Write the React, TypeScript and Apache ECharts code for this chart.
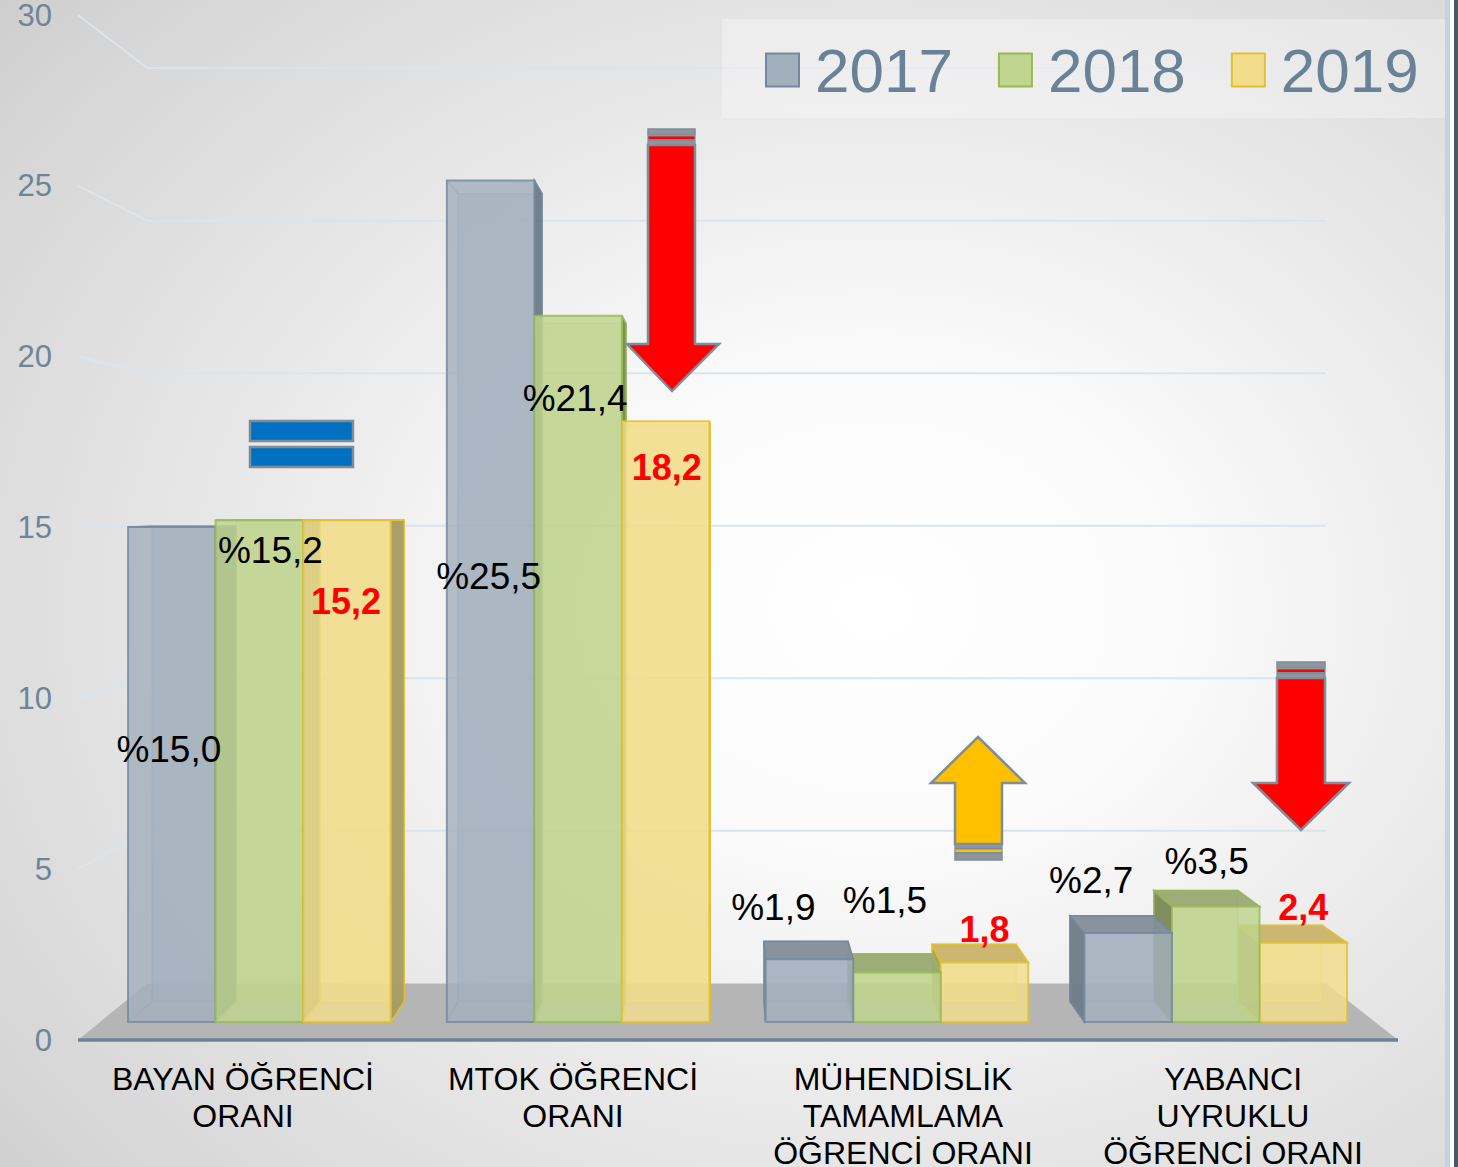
import React, { useEffect, useRef } from "react";
import * as echarts from "echarts";

const categories = [
  "BAYAN ÖĞRENCİ\nORANI",
  "MTOK ÖĞRENCİ\nORANI",
  "MÜHENDİSLİK\nTAMAMLAMA\nÖĞRENCİ ORANI",
  "YABANCI\nUYRUKLU\nÖĞRENCİ ORANI",
];
const seriesNames = ["2017", "2018", "2019"];
const values2017 = [15.0, 25.5, 1.9, 2.7];
const values2018 = [15.2, 21.4, 1.5, 3.5];
const values2019 = [15.2, 18.2, 1.8, 2.4];
const yTicks = [0, 5, 10, 15, 20, 25, 30];

// label offsets from the top centre of each bar (layout only)
const labelDx = [
  [-3, -2, -36, -37],
  [11, -3, -12, -9],
  [-1, 1, 0, 0],
];
const labelDy = [
  [223, 396, -52, -52],
  [30, 83, -72, -45],
  [81, 46, -33, -35],
];

const FONT = "'Liberation Sans', Arial, Helvetica, sans-serif";
const VX = 725;
const VY = 511;
const KF = 0.966;
const KB = 0.927;
const KW = 0.893;
const GROUP_FRAC = 0.824;

const styles = [
  { face: "#A2B0BD", border: "#7489A0", side: "#6F7B88", top: "#848F9A", label: "#000000", bold: false },
  { face: "#BFD48F", border: "#98B954", side: "#7A8956", top: "#9AAA74", label: "#000000", bold: false },
  { face: "#F2DD8C", border: "#E2C030", side: "#A69C64", top: "#C8B46C", label: "#FF0000", bold: true },
];

const proj = (X: number, Y: number, k: number) => [VX + (X - VX) * k, VY + (Y - VY) * k];

const fmt = (v: number) => v.toFixed(1).replace(".", ",");

function makeBarRender(s: number) {
  return (params: any, api: any) => {
    const i = api.value(0);
    const v = api.value(1);
    const base = api.coord([i, 0]);
    const topPt = api.coord([i, v]);
    const band = api.size([1, 0])[0];
    const gw = band * GROUP_FRAC;
    const bw = gw / 3;
    const X0 = base[0] - gw / 2 + s * bw;
    const X1 = X0 + bw;
    const Yt = topPt[1];
    const Yb = base[1];
    const f = (X: number, Y: number) => proj(X, Y, KF);
    const b = (X: number, Y: number) => proj(X, Y, KB);
    const st = styles[s];
    const leftOfVp = X1 <= VX;
    const order = leftOfVp ? s : 2 - s;
    const z = 10 + order * 10;
    const children: any[] = [];
    // back face
    children.push({
      type: "polygon",
      shape: { points: [b(X0, Yt), b(X1, Yt), b(X1, Yb), b(X0, Yb)] },
      style: { fill: st.face, opacity: 0.45, stroke: st.border, lineWidth: 1.5 },
      z2: z,
    });
    // connecting edges (seen through the transparent faces)
    const corners = [
      [X0, Yt],
      [X1, Yt],
      [X1, Yb],
      [X0, Yb],
    ];
    corners.forEach((c) => {
      const p1 = f(c[0], c[1]);
      const p2 = b(c[0], c[1]);
      children.push({
        type: "line",
        shape: { x1: p1[0], y1: p1[1], x2: p2[0], y2: p2[1] },
        style: { stroke: st.border, lineWidth: 1.5, opacity: 0.6 },
        z2: z + 1,
      });
    });
    // visible side face
    const sx = leftOfVp ? X1 : X0 >= VX ? X0 : null;
    if (sx !== null) {
      children.push({
        type: "polygon",
        shape: { points: [f(sx, Yt), b(sx, Yt), b(sx, Yb), f(sx, Yb)] },
        style: { fill: st.side, opacity: 0.95, stroke: st.border, lineWidth: 1.5 },
        z2: z + 2,
      });
    }
    // top face (when below eye level)
    if (Yt > VY) {
      children.push({
        type: "polygon",
        shape: { points: [f(X0, Yt), f(X1, Yt), b(X1, Yt), b(X0, Yt)] },
        style: { fill: st.top, opacity: 0.95, stroke: st.border, lineWidth: 1.5 },
        z2: z + 3,
      });
    }
    // front face
    children.push({
      type: "polygon",
      shape: { points: [f(X0, Yt), f(X1, Yt), f(X1, Yb), f(X0, Yb)] },
      style: { fill: st.face, opacity: 0.82, stroke: st.border, lineWidth: 2 },
      z2: z + 4,
    });
    // label
    const t0 = f(X0, Yt);
    const t1 = f(X1, Yt);
    const lx = (t0[0] + t1[0]) / 2 + labelDx[s][i];
    const ly = t0[1] + labelDy[s][i];
    children.push({
      type: "text",
      x: lx,
      y: ly,
      style: {
        text: (st.bold ? "" : "%") + fmt(v),
        fill: st.label,
        fontSize: st.bold ? 36 : 37,
        fontWeight: st.bold ? "bold" : "normal",
        fontFamily: FONT,
        align: "center",
        verticalAlign: "middle",
      },
      z2: 500,
    });
    return { type: "group", children };
  };
}

function wallRender(params: any, api: any) {
  const v = api.value(1);
  const cs = params.coordSys;
  const Y = api.coord([0, v])[1];
  const XL = cs.x;
  const XR = cs.x + cs.width;
  if (v === 0) {
    return {
      type: "group",
      children: [
        {
          type: "polygon",
          shape: { points: [[XL, Y], proj(XL, Y, KW), proj(XR, Y, KW), [XR, Y]] },
          style: { fill: "#B5B5B5" },
          z2: 1,
        },
        {
          type: "line",
          shape: { x1: XL, y1: Y, x2: XR, y2: Y },
          style: { stroke: "#6E8296", lineWidth: 3.5 },
          z2: 2,
        },
      ],
    };
  }
  return {
    type: "polyline",
    shape: { points: [[XL, Y], proj(XL, Y, KW), proj(XR, Y, KW)] },
    style: { stroke: "#DCE4EB", lineWidth: 2, fill: null },
    z2: 0,
  };
}

const ARROW_STROKE = "#7F8C99";

function downArrow(x0: number, x1: number, top: number, shaftTop: number, headY: number, hx0: number, hx1: number, tipX: number, tipY: number) {
  return [
    {
      type: "polygon",
      z: 10,
      shape: {
        points: [
          [x0, shaftTop],
          [x1, shaftTop],
          [x1, headY],
          [hx1, headY],
          [tipX, tipY],
          [hx0, headY],
          [x0, headY],
        ],
      },
      style: { fill: "#FF0000", stroke: ARROW_STROKE, lineWidth: 2.5 },
    },
    { type: "rect", z: 10, shape: { x: x0, y: top, width: x1 - x0, height: 6 }, style: { fill: "#8C96A1", stroke: ARROW_STROKE, lineWidth: 1.5 } },
    { type: "rect", z: 10, shape: { x: x0, y: top + 7, width: x1 - x0, height: 3.5 }, style: { fill: "#FF0000", stroke: ARROW_STROKE, lineWidth: 1.2 } },
    { type: "rect", z: 10, shape: { x: x0, y: top + 11.5, width: x1 - x0, height: shaftTop - top - 11.5 }, style: { fill: "#8C96A1", stroke: ARROW_STROKE, lineWidth: 1.2 } },
  ];
}

function upArrow() {
  const x0 = 955, x1 = 1002, headY = 783, bottom = 844;
  return [
    {
      type: "polygon",
      z: 10,
      shape: {
        points: [
          [978, 737],
          [1025, headY],
          [x1, headY],
          [x1, bottom],
          [x0, bottom],
          [x0, headY],
          [931, headY],
        ],
      },
      style: { fill: "#FFC000", stroke: ARROW_STROKE, lineWidth: 2.5 },
    },
    { type: "rect", z: 10, shape: { x: x0, y: bottom + 0.5, width: x1 - x0, height: 4 }, style: { fill: "#8C96A1", stroke: ARROW_STROKE, lineWidth: 1.2 } },
    { type: "rect", z: 10, shape: { x: x0, y: bottom + 5, width: x1 - x0, height: 3.5 }, style: { fill: "#FFC000", stroke: ARROW_STROKE, lineWidth: 1.2 } },
    { type: "rect", z: 10, shape: { x: x0, y: bottom + 9, width: x1 - x0, height: 7 }, style: { fill: "#8C96A1", stroke: ARROW_STROKE, lineWidth: 1.5 } },
  ];
}

export default function App() {
  const ref = useRef<HTMLDivElement>(null);
  useEffect(() => {
    document.body.style.margin = "0";
    if (!ref.current) return;
    const chart = echarts.init(ref.current, undefined, { renderer: "svg" });
    const seriesValues = [values2017, values2018, values2019];
    const option: any = {
      animation: false,
      graphic: [
        {
          type: "rect",
          z: -10,
          silent: true,
          shape: { x: 0, y: 0, width: 1458, height: 1167 },
          style: {
            fill: new echarts.graphic.RadialGradient(0.6, 0.52, 0.8, [
              { offset: 0, color: "#ffffff" },
              { offset: 0.25, color: "#fbfbfb" },
              { offset: 0.6, color: "#e6e6e6" },
              { offset: 0.9, color: "#d5d5d5" },
              { offset: 1, color: "#cdcdcd" },
            ]),
          },
        },
        {
          type: "rect",
          z: 3,
          silent: true,
          shape: { x: 722, y: 19, width: 724, height: 99 },
          style: { fill: "rgba(255,255,255,0.3)" },
        },
        { type: "rect", z: 10, silent: true, shape: { x: 1445, y: 0, width: 5, height: 1167 }, style: { fill: "#C6D2DD" } },
        { type: "rect", z: 10, silent: true, shape: { x: 1450, y: 0, width: 4, height: 1167 }, style: { fill: "#FFFFFF" } },
        { type: "rect", z: 10, silent: true, shape: { x: 1454, y: 0, width: 4, height: 1167 }, style: { fill: "#4A5968" } },
        ...downArrow(648, 695, 129, 145, 344, 627, 719, 672, 391),
        ...downArrow(1277, 1325, 662, 678, 783, 1253, 1349, 1301, 830),
        ...upArrow(),
        { type: "rect", z: 10, shape: { x: 250, y: 421, width: 103, height: 20 }, style: { fill: "#0070C0", stroke: ARROW_STROKE, lineWidth: 2.5 } },
        { type: "rect", z: 10, shape: { x: 250, y: 447, width: 103, height: 20 }, style: { fill: "#0070C0", stroke: ARROW_STROKE, lineWidth: 2.5 } },
      ],
      legend: {
        left: 765,
        top: 39,
        padding: 0,
        z: 6,
        itemWidth: 33,
        itemHeight: 33,
        itemGap: 45,
        selectedMode: false,
        textStyle: {
          fontSize: 62,
          lineHeight: 33,
          color: "#6A8298",
          fontFamily: FONT,
          padding: [0, 0, 0, 11],
        },
        data: seriesNames.map((n, s) => ({
          name: n,
          icon: "rect",
          itemStyle: { color: styles[s].face, borderColor: styles[s].border, borderWidth: 2 },
        })),
      },
      grid: {
        left: 78,
        right: 60,
        top: 15,
        bottom: 127,
        containLabel: false,
        outerBoundsMode: "none",
      },
      xAxis: {
        type: "category",
        data: categories,
        axisLine: { show: false },
        axisTick: { show: false },
        splitLine: { show: false },
        axisLabel: {
          interval: 0,
          margin: 20,
          fontSize: 32,
          lineHeight: 37,
          color: "#000000",
          fontFamily: FONT,
          align: "center",
        },
      },
      yAxis: {
        type: "value",
        min: 0,
        max: 30,
        interval: 5,
        axisLine: { show: false },
        axisTick: { show: false },
        splitLine: { show: false },
        axisLabel: {
          margin: 26,
          fontSize: 31,
          color: "#6D8599",
          fontFamily: FONT,
        },
      },
      series: [
        {
          name: "walls",
          type: "custom",
          coordinateSystem: "cartesian2d",
          renderItem: wallRender,
          data: yTicks.map((v) => [0, v]),
          encode: { x: 0, y: 1 },
          clip: false,
          silent: true,
        },
        ...seriesNames.map((n, s) => ({
          name: n,
          type: "custom",
          coordinateSystem: "cartesian2d",
          renderItem: makeBarRender(s),
          data: seriesValues[s].map((v, i) => [i, v]),
          encode: { x: 0, y: 1 },
          clip: false,
          itemStyle: { color: styles[s].face, borderColor: styles[s].border },
        })),
      ],
    };
    chart.setOption(option);
    return () => chart.dispose();
  }, []);
  return <div ref={ref} style={{ width: 1458, height: 1167 }} />;
}
